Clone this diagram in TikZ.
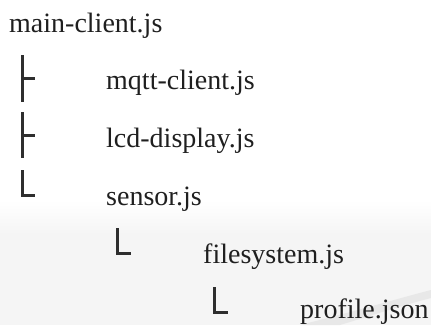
\documentclass[tikz,border=0pt]{standalone}
\usepackage{fontspec}
\setmainfont{Liberation Serif}
\begin{document}
\begin{tikzpicture}[x=1pt,y=-1pt,
  fname/.style={anchor=base west,inner sep=0pt,text=black!88,font=\fontsize{28}{30}\selectfont},
  treeline/.style={line width=3pt,draw=black!82,line cap=butt}]
\useasboundingbox (0,0) rectangle (431,325);
\shade[top color=white,bottom color=black!4] (0,200) rectangle (431,235);
\fill[black!4] (0,235) rectangle (431,325);
\fill[black!9] (300,325) .. controls (360,310) and (400,298) .. (431,290) -- (431,298) .. controls (400,306) and (370,316) .. (340,325) -- cycle;
% file names
\node[fname] (main) at (9,32) {main-client.js};
\node[fname] (mqtt) at (106,89) {mqtt-client.js};
\node[fname] (lcd) at (106,147) {lcd-display.js};
\node[fname] (sensor) at (106,205) {sensor.js};
\node[fname] (fs) at (203,263) {filesystem.js};
\node[fname] (prof) at (300,318) {profile.json};
% tree glyph anchors
\coordinate (t1a) at (22,55);  \coordinate (t1b) at (22,102); \coordinate (t1m) at (22,78);  \coordinate (t1e) at (35,78);
\coordinate (t2a) at (22,112); \coordinate (t2b) at (22,158); \coordinate (t2m) at (22,135); \coordinate (t2e) at (35,135);
\coordinate (l1a) at (22,170); \coordinate (l1b) at (22,195); \coordinate (l1e) at (35,195);
\coordinate (l2a) at (117,228); \coordinate (l2b) at (117,253); \coordinate (l2e) at (131,253);
\coordinate (l3a) at (214,287); \coordinate (l3b) at (214,312); \coordinate (l3e) at (228,312);
% tee glyphs
\draw[treeline] (t1a) -- (t1b); \draw[treeline] (t1m) -- (t1e);
\draw[treeline] (t2a) -- (t2b); \draw[treeline] (t2m) -- (t2e);
% corner glyphs
\draw[treeline] (l1a) -- (l1b) -- (l1e);
\draw[treeline] (l2a) -- (l2b) -- (l2e);
\draw[treeline] (l3a) -- (l3b) -- (l3e);
\end{tikzpicture}
\end{document}
